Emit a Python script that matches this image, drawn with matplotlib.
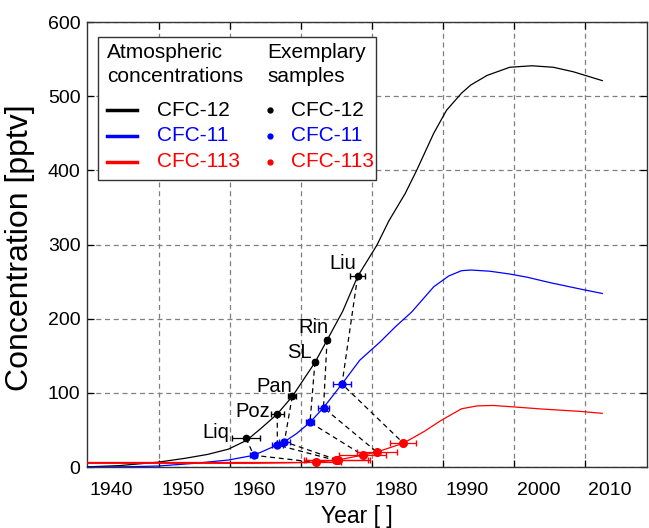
import numpy as np
import matplotlib
matplotlib.use('Agg')
import matplotlib.pyplot as plt
from matplotlib.lines import Line2D
from matplotlib.patches import Rectangle

plt.rcParams['font.family'] = ['Liberation Sans', 'DejaVu Sans']

# atmospheric history curves (year, pptv)
cfc12_year = [1936.6, 1941, 1946.5, 1950.3, 1953.5, 1956.4, 1959, 1961, 1963.3, 1965.4,
              1968.6, 1970.3, 1972.5, 1974.6, 1977.3, 1979, 1981.3, 1982.9, 1985.3,
              1987.1, 1989.2, 1990.5, 1992.8, 1996, 1999.1, 2002.1, 2004.9, 2009]
cfc12_conc = [0.3, 1.8, 6.5, 11.7, 17, 24, 36, 52, 71.5, 95,
              141, 171, 210, 257, 299, 332, 369, 400, 450,
              481, 504, 515, 528, 539, 541, 539, 533, 521]

cfc11_year = [1936.6, 1942, 1946.5, 1951.7, 1956.4, 1960, 1963.3, 1964.3, 1966, 1967.9,
              1969.8, 1972.4, 1974.9, 1977.8, 1979.9, 1982.2, 1985.3, 1987.4, 1989.2,
              1990.5, 1993.2, 1996, 1998.4, 2001.7, 2005.9, 2009]
cfc11_conc = [0, 0.3, 1.3, 5, 9.4, 15.8, 29.7, 34.1, 45, 60.2,
              80, 112, 144, 169, 189, 209, 243, 257.5, 264.7,
              265.6, 264, 260.2, 256, 248.5, 240, 234]

cfc113_year = [1936.6, 1955, 1960, 1964, 1968.7, 1971.7, 1975.3, 1977.3, 1981, 1983.9,
               1986.2, 1989.2, 1991.4, 1993.6, 1996.2, 2000.5, 2005.9, 2009]
cfc113_conc = [5, 5, 5, 5.5, 6.5, 9.3, 16, 20.2, 32, 47.6,
               62, 78.5, 82.4, 83, 81.3, 78.2, 75, 72.4]

# exemplary samples
samples = ['Liq', 'Poz', 'Pan', 'SL', 'Rin', 'Liu']
s12_year = [1958.9, 1963.3, 1965.4, 1968.6, 1970.3, 1974.6]
s12_conc = [38.7, 71.5, 95.3, 141.6, 171.2, 257.1]
s12_err = [1.9, 0.9, 0.6, 0.3, 0.3, 1.1]
s11_year = [1960.0, 1963.3, 1964.3, 1967.9, 1969.8, 1972.4]
s11_conc = [15.8, 29.7, 34.1, 60.2, 80.0, 111.9]
s11_err = [0.5, 0.8, 0.8, 0.6, 0.8, 1.3]
s113_year = [1968.7, 1971.5, 1971.8, 1975.3, 1977.3, 1981.0]
s113_conc = [6.3, 9.0, 9.4, 16.2, 20.2, 32.4]
s113_err_lo = [35, 4.5, 4.5, 3.3, 2.8, 1.8]
s113_err_hi = [3.5, 4.5, 4.5, 3.3, 2.8, 1.8]

# label offsets in pixels (right edge, vertical centre) relative to the black point
label_off = [(-17, 6), (-7, 2), (0, 10), (-3, 9), (1, 13), (-2, 13)]

decade_labels = [1940, 1950, 1960, 1970, 1980, 1990, 2000, 2010]
grid_years = [1946.6, 1956.6, 1966.6, 1976.6, 1986.6, 1996.6, 2006.6]

BLUE = '#0000ff'
RED = '#ff0000'

fig = plt.figure(figsize=(6.49, 5.28), dpi=100)
ax = fig.add_axes([0.1347, 0.1155, 0.8623, 0.8428])

ax.plot(cfc12_year, cfc12_conc, color='black', lw=0.9, zorder=3)
ax.plot(cfc11_year, cfc11_conc, color=BLUE, lw=0.9, zorder=3)
ax.plot(cfc113_year, cfc113_conc, color=RED, lw=0.9, zorder=3)

# dashed links black -> blue -> red for each sample
for i in range(len(samples)):
    ax.plot([s12_year[i], s11_year[i], s113_year[i]],
            [s12_conc[i], s11_conc[i], s113_conc[i]],
            color='black', lw=0.9, ls=(0, (4, 3)), zorder=2)

ax.errorbar(s12_year, s12_conc, xerr=s12_err, fmt='o', color='black', ms=4.5,
            elinewidth=0.9, capsize=2.5, zorder=5)
ax.errorbar(s11_year, s11_conc, xerr=s11_err, fmt='o', color=BLUE, ms=5,
            elinewidth=0.9, capsize=2.5, zorder=5)
ax.errorbar(s113_year, s113_conc, xerr=[s113_err_lo, s113_err_hi], fmt='o', color=RED,
            ms=5.5, elinewidth=0.9, capsize=2.5, zorder=5)

for i, name in enumerate(samples):
    dx, dy = label_off[i]
    ax.annotate(name, (s12_year[i], s12_conc[i]), xytext=(dx, dy),
                textcoords='offset pixels', ha='right', va='center', fontsize=14.5)

ax.set_xlim(1936.6, 2015.3)
ax.set_ylim(0, 600)
ax.set_xticks(decade_labels)
ax.set_xticklabels([str(y) for y in decade_labels])
ax.set_xticks(grid_years, minor=True)
ax.set_yticks(range(0, 601, 100))
ax.tick_params(axis='x', which='major', length=0, pad=11, labelsize=14)
ax.tick_params(axis='x', which='minor', direction='in', length=5, top=True, width=0.9)
ax.tick_params(axis='y', direction='in', length=5, right=True, pad=5, labelsize=14, width=0.9)
ax.grid(True, axis='x', which='minor', color='#7f7f7f', ls=(0, (4, 3)), lw=0.9)
ax.grid(True, axis='y', which='major', color='#7f7f7f', ls=(0, (4, 3)), lw=0.9)
ax.grid(False, axis='x', which='major')
for sp in ax.spines.values():
    sp.set_color('#333333')
    sp.set_linewidth(1.0)

ax.set_xlabel('Year [ ]', fontsize=16.5)
ax.xaxis.set_label_coords(0.482, -0.085)
ax.set_ylabel('Concentration [pptv]', fontsize=23)
ax.yaxis.set_label_coords(-0.094, 0.493)

# legend drawn by hand in axes coordinates
tr = ax.transAxes
ax.add_patch(Rectangle((0.019, 0.645), 0.497, 0.321, transform=tr, facecolor='white',
                       edgecolor='#333333', lw=1.0, zorder=8))
ax.text(0.035, 0.952, 'Atmospheric\nconcentrations', transform=tr, fontsize=15,
        va='top', ha='left', linespacing=1.3, zorder=9)
ax.text(0.322, 0.952, 'Exemplary\nsamples', transform=tr, fontsize=15,
        va='top', ha='left', linespacing=1.3, zorder=9)
leg_names = ['CFC-12', 'CFC-11', 'CFC-113']
leg_colors = ['black', BLUE, RED]
leg_rows = [0.802, 0.744, 0.686]
for name, c, yy in zip(leg_names, leg_colors, leg_rows):
    ax.add_line(Line2D([0.035, 0.088], [yy, yy], transform=tr, color=c, lw=2.5, zorder=9))
    ax.text(0.124, yy, name, transform=tr, color=c, fontsize=15, va='center', zorder=9)
    ax.add_line(Line2D([0.326], [yy], transform=tr, color=c, marker='o', ms=3.5, zorder=9))
    ax.text(0.364, yy, name, transform=tr, color=c, fontsize=15, va='center', zorder=9)

fig.savefig('out.png', dpi=100)
